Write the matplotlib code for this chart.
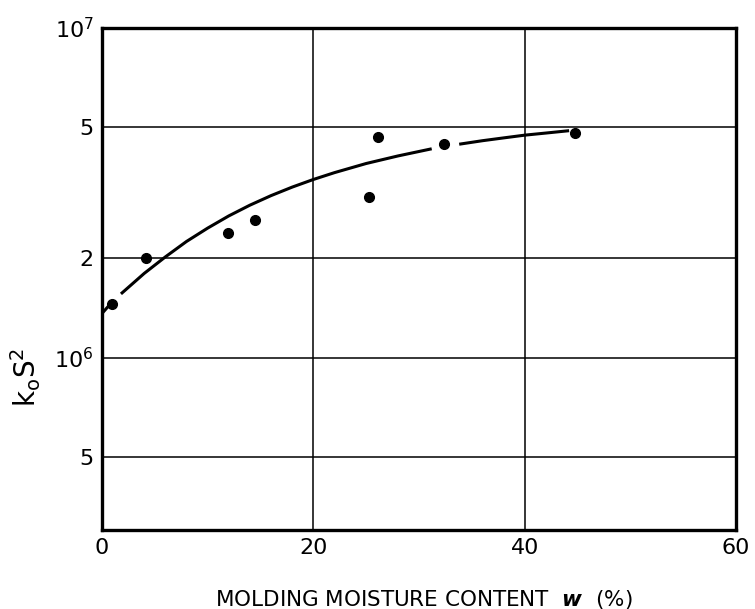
import numpy as np
import matplotlib
matplotlib.use("Agg")
import matplotlib.pyplot as plt

# Measured points
moisture = [1.0, 4.2, 11.9, 14.5, 25.3, 26.1, 32.4, 44.8]
ks2 = [1.45e6, 2.0e6, 2.38e6, 2.62e6, 3.08e6, 4.67e6, 4.44e6, 4.80e6]

# Hand-drawn fitted curve (gaps where it passes the dots)
curve_x = [0.0, 0.6, np.nan, 1.8, 4.0, 6.0, 8.0, 10.0, 12.0, 14.0, 16.0, 18.0, 20.0,
           22.0, 25.0, 28.0, 31.2, np.nan, 33.8, 36.0, 38.0, 40.0, 42.0, 44.2]
curve_y = [1.36e6, 1.43e6, np.nan, 1.56e6, 1.80e6, 2.02e6, 2.25e6, 2.47e6, 2.69e6, 2.90e6,
           3.10e6, 3.29e6, 3.47e6, 3.64e6, 3.88e6, 4.09e6, 4.30e6, np.nan, 4.44e6, 4.55e6,
           4.64e6, 4.73e6, 4.80e6, 4.88e6]

xticks = [0, 20, 40, 60]
xtick_labels = ["0", "20", "40", "60"]
yticks = [5e5, 1e6, 2e6, 5e6, 1e7]
ytick_labels = ["5", r"$\mathregular{10^6}$", "2", "5", r"$\mathregular{10^7}$"]

fig = plt.figure(figsize=(7.55, 6.09), dpi=100)
ax = fig.add_axes([0.135, 0.130, 0.840, 0.824])
ax.set_yscale("log")
ax.set_xlim(0, 60)
ax.set_ylim(3e5, 1e7)

ax.plot(curve_x, curve_y, color="black", lw=2.2, solid_capstyle="butt")
ax.plot(moisture, ks2, "o", color="black", markersize=7, zorder=3)

ax.set_xticks(xticks)
ax.set_xticklabels(xtick_labels, fontsize=16)
ax.set_yticks(yticks)
ax.set_yticklabels(ytick_labels, fontsize=16)
ax.yaxis.set_minor_locator(matplotlib.ticker.NullLocator())
ax.tick_params(length=0, pad=6)
ax.grid(True, color="black", lw=1.1)
ax.set_axisbelow(True)
for s in ax.spines.values():
    s.set_linewidth(2.4)

fig.text(0.5616, 0.0164, r"MOLDING MOISTURE CONTENT  $\mathbfit{w}$  (%)",
         fontsize=15.5, ha="center", va="center")
fig.text(0.034, 0.381, r"$\mathsf{k_oS^2}$", fontsize=20, rotation=90,
         ha="center", va="center")

fig.savefig("out.png", dpi=100)
